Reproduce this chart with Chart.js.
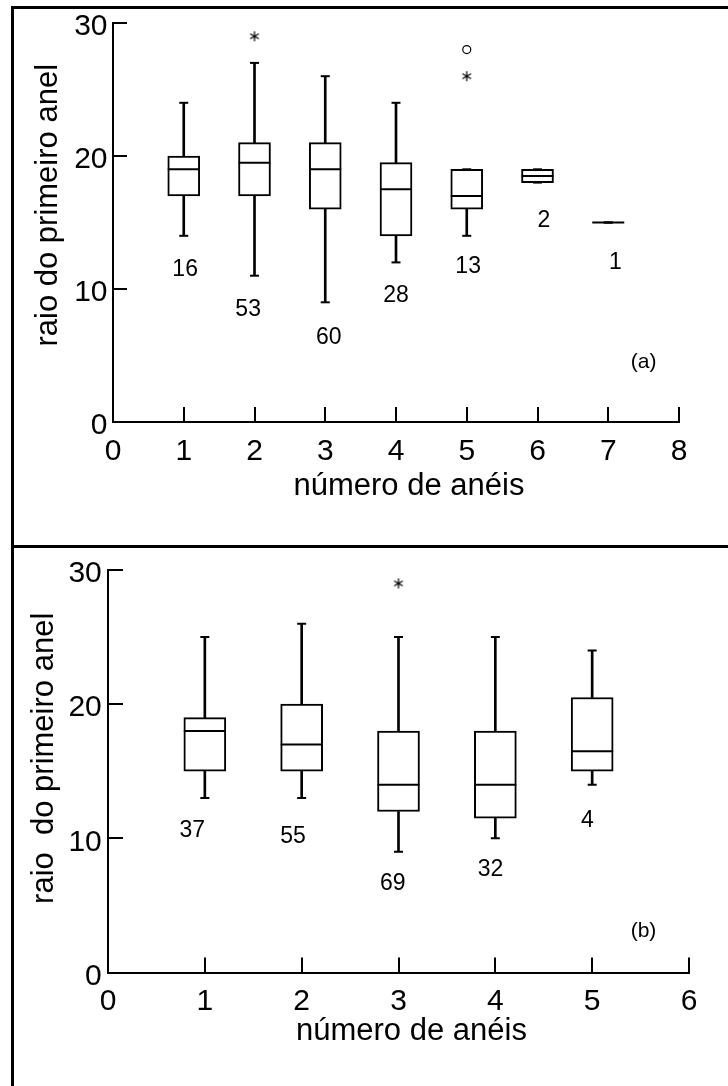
<!DOCTYPE html>
<html><head><meta charset="utf-8">
<script src="https://cdn.jsdelivr.net/npm/chart.js@4.4.1/dist/chart.umd.min.js"></script>
<style>
html,body{margin:0;padding:0;background:#fff;width:728px;height:1086px;overflow:hidden;position:relative}
canvas{position:absolute;left:0}
#ca{top:0}
#cb{top:547px}
.ln{position:absolute;background:#000}
</style></head><body>
<canvas id="ca" width="728" height="547"></canvas>
<canvas id="cb" width="728" height="539"></canvas>
<div class="ln" style="left:11px;top:5.5px;width:717px;height:3px"></div>
<div class="ln" style="left:11px;top:545px;width:717px;height:3px"></div>
<div class="ln" style="left:11px;top:5.5px;width:3px;height:1081px"></div>
<script>
// ---------- Panel (a) data ----------
const aRings = [1, 2, 3, 4, 5, 6, 7];
const aMin   = [14, 11, 9, 12, 14, 18, 15];
const aQ1    = [17, 17, 16, 14, 16, 18, 15];
const aMed   = [19, 19.5, 19, 17.5, 17, 18.5, 15];
const aQ3    = [20, 21, 21, 19.5, 19, 19, 15];
const aMax   = [24, 27, 26, 24, 19, 19, 15];
const aN     = [16, 53, 60, 28, 13, 2, 1];
const aNLabelX = [1.02, 1.91, 3.05, 4.0, 5.02, 6.09, 7.1];
const aNLabelY = [11.45, 8.45, 6.32, 9.5, 11.7, 15.15, 11.95];
const aStarX = [2, 5], aStarY = [29, 26];
const aCircX = [5],    aCircY = [28];
const aXTicks = [0, 1, 2, 3, 4, 5, 6, 7, 8];

// ---------- Panel (b) data ----------
const bRings = [1, 2, 3, 4, 5];
const bMin   = [13, 13, 9, 10, 14];
const bQ1    = [15, 15, 12, 11.5, 15];
const bMed   = [18, 17, 14, 14, 16.5];
const bQ3    = [19, 20, 18, 18, 20.5];
const bMax   = [25, 26, 25, 25, 24];
const bN     = [37, 55, 69, 32, 4];
const bNLabelX = [0.87, 1.91, 2.94, 3.95, 4.95];
const bNLabelY = [10.59, 10.1, 6.61, 7.65, 11.32];
const bStarX = [3], bStarY = [29];
const bCircX = [],  bCircY = [];
const bXTicks = [0, 1, 2, 3, 4, 5, 6];

const yTicks = [0, 10, 20, 30];

const FONT = "'Liberation Sans', Arial, Helvetica, sans-serif";
Chart.defaults.font.family = FONT;
Chart.defaults.color = '#000';

function asterisk() {
  const c = document.createElement('canvas');
  c.width = 12; c.height = 12;
  const g = c.getContext('2d');
  g.strokeStyle = '#000'; g.lineWidth = 1.2;
  g.beginPath();
  for (const a of [90, 30, 150]) {
    const r = a * Math.PI / 180;
    g.moveTo(6 - 5 * Math.cos(r), 6 - 5 * Math.sin(r));
    g.lineTo(6 + 5 * Math.cos(r), 6 + 5 * Math.sin(r));
  }
  g.stroke();
  return c;
}
const STAR = asterisk();

const annot = {
  id: 'annot',
  afterDatasetsDraw(chart, args, o) {
    const {ctx, scales: {x, y}} = chart;
    ctx.save();
    ctx.fillStyle = '#000'; ctx.textAlign = 'center'; ctx.textBaseline = 'middle';
    ctx.font = '23px ' + FONT;
    o.labels.forEach((t, i) => ctx.fillText(String(t), x.getPixelForValue(o.lx[i]), y.getPixelForValue(o.ly[i])));
    ctx.font = '21px ' + FONT;
    ctx.fillText(o.tag, x.getPixelForValue(o.tagX), y.getPixelForValue(o.tagY));
    ctx.restore();
  }
};

function makeDatasets(d) {
  const R = d.rings;
  return [
    {type: 'bar', data: R.map((r, i) => ({x: r, y: [d.min[i], d.q1[i]]})), barThickness: 2,
     backgroundColor: '#000', borderWidth: 0, grouped: false, order: 4},
    {type: 'bar', data: R.map((r, i) => ({x: r, y: [d.q3[i], d.max[i]]})), barThickness: 2,
     backgroundColor: '#000', borderWidth: 0, grouped: false, order: 4},
    {type: 'bar', data: R.map((r, i) => ({x: r, y: [d.q1[i], d.q3[i]]})), barThickness: d.boxW,
     backgroundColor: '#fff', borderColor: '#000', borderWidth: 2, borderSkipped: false, grouped: false, order: 3},
    {type: 'scatter', data: R.map((r, i) => ({x: r, y: d.med[i]})), pointStyle: 'line',
     pointRadius: d.boxW / 2, pointBorderWidth: 2, pointBorderColor: '#000', order: 1},
    {type: 'scatter', data: R.flatMap((r, i) => [{x: r, y: d.min[i]}, {x: r, y: d.max[i]}]), pointStyle: 'line',
     pointRadius: 4.5, pointBorderWidth: 2, pointBorderColor: '#000', order: 2},
    {type: 'scatter', data: d.starX.map((v, i) => ({x: v, y: d.starY[i]})), pointStyle: STAR,
     pointRadius: 5, order: 0},
    {type: 'scatter', data: d.circX.map((v, i) => ({x: v, y: d.circY[i]})), pointStyle: 'circle',
     pointRadius: 4, pointBorderWidth: 1.2, pointBorderColor: '#000', pointBackgroundColor: '#fff', order: 0}
  ];
}

function makeOptions(g) {
  return {
    responsive: false, animation: false, devicePixelRatio: 1, events: [],
    layout: {padding: {left: 0, top: g.top, right: g.right, bottom: 0}},
    plugins: {legend: {display: false}, tooltip: {enabled: false},
      annot: {labels: g.n, lx: g.nx, ly: g.ny, tag: g.tag, tagX: g.tagX, tagY: g.tagY}},
    scales: {
      x: {type: 'linear', min: 0, max: g.xTicks[g.xTicks.length - 1], offset: false,
        afterBuildTicks: s => { s.ticks = g.xTicks.map(v => ({value: v})); },
        ticks: {font: {size: 30}, color: '#000', padding: 26.5, maxRotation: 0, autoSkip: false, callback: v => String(v)},
        grid: {drawOnChartArea: false, drawTicks: true, tickLength: -15, color: '#000', lineWidth: 2, offset: false},
        border: {display: true, color: '#000', width: 2},
        title: {display: true, text: g.xTitle, color: '#000', font: {size: 31}, padding: {top: 0, bottom: g.xTitlePad}},
        afterFit: s => { s.height = g.xH; s.paddingLeft = 0; s.paddingRight = 0; }
      },
      y: {type: 'linear', min: 0, max: 30, position: 'left',
        afterBuildTicks: s => { s.ticks = yTicks.map(v => ({value: v})); },
        ticks: {font: {size: 30}, color: '#000', padding: g.yPad, labelOffset: 4, callback: v => String(v)},
        grid: {drawOnChartArea: false, drawTicks: true, tickLength: -g.yTL, color: '#000', lineWidth: 2},
        border: {display: true, color: '#000', width: 2},
        title: {display: true, text: g.yTitle, color: '#000', font: {size: 31}, padding: {top: g.yTitlePad, bottom: 0}},
        afterFit: s => { s.width = g.yW; s.paddingTop = 0; s.paddingBottom = 0; }
      }
    }
  };
}

new Chart(document.getElementById('ca'), {
  type: 'scatter',
  data: {datasets: makeDatasets({rings: aRings, min: aMin, q1: aQ1, med: aMed, q3: aQ3, max: aMax, boxW: 32,
    starX: aStarX, starY: aStarY, circX: aCircX, circY: aCircY})},
  options: makeOptions({top: 23, right: 49, xH: 125, yW: 113, xTicks: aXTicks,
    xTitle: '   número de anéis', xTitlePad: 42.4, yTitle: '    raio do primeiro anel', yTitlePad: 29.7,
    yPad: 19.5, yTL: 14, n: aN, nx: aNLabelX, ny: aNLabelY, tag: '(a)', tagX: 7.5, tagY: 4.47}),
  plugins: [annot]
});

new Chart(document.getElementById('cb'), {
  type: 'scatter',
  data: {datasets: makeDatasets({rings: bRings, min: bMin, q1: bQ1, med: bMed, q3: bQ3, max: bMax, boxW: 42,
    starX: bStarX, starY: bStarY, circX: bCircX, circY: bCircY})},
  options: makeOptions({top: 17, right: 39, xH: 113.5, yW: 108, xTicks: bXTicks,
    xTitle: '   número de anéis', xTitlePad: 36.4, yTitle: '   raio  do primeiro anel', yTitlePad: 25.7,
    yPad: 21.2, yTL: 15, n: bN, nx: bNLabelX, ny: bNLabelY, tag: '(b)', tagX: 5.53, tagY: 3.1}),
  plugins: [annot]
});
</script>
</body></html>
